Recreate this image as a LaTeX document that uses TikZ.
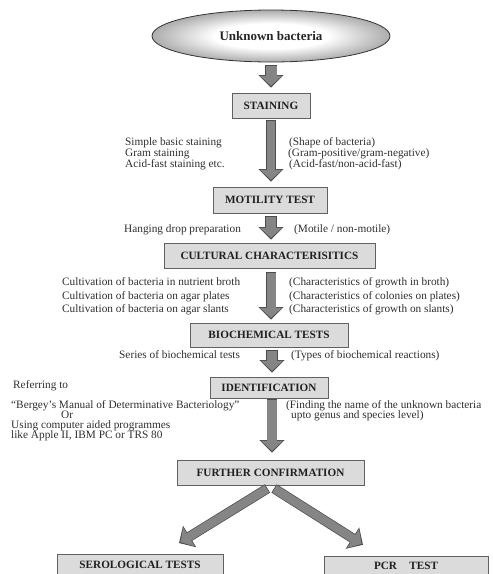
\documentclass[tikz,border=0pt]{standalone}
\usepackage{fontspec}
\setmainfont{Liberation Serif}
\usetikzlibrary{arrows.meta,shapes.geometric,calc}
\definecolor{arrowfill}{gray}{0.52}
\definecolor{arrowedge}{gray}{0.30}
\definecolor{boxfill}{gray}{0.86}
\definecolor{boxedge}{gray}{0.38}
\definecolor{txt}{gray}{0.18}
\pgfdeclareradialshading{ellshade}{\pgfpoint{0bp}{0bp}}{color(0bp)=(white); color(12bp)=(white); color(24bp)=(black!30); color(36bp)=(black!58); color(44bp)=(black!72); color(50bp)=(black!88)}
\newcommand{\barr}[5]{%
  \draw[draw=arrowedge, line width=#2pt, -{Triangle[width=24.5pt,length=12.5pt]}] #4 -- #5;
  \draw[draw=arrowfill, line width=#1pt, -{Triangle[width=21.5pt,length=10pt]}, shorten >=1.7pt, shorten <=0.7pt] #4 -- #5;}
\tikzset{
  stepbox/.style={draw=boxedge, line width=0.9pt, fill=boxfill, rectangle, inner sep=0pt,
    font=\fontsize{11.2}{13}\selectfont\bfseries, text=black!88},
  side/.style={anchor=base west, inner sep=0pt, text=txt, font=\fontsize{11.3}{13}\selectfont},
}
\begin{document}
\begin{tikzpicture}[x=1pt,y=-1pt]
\useasboundingbox (0,0) rectangle (493,574);
% main nodes
\node[ellipse, draw=black!80, line width=0.8pt, shading=ellshade, minimum width=238pt, minimum height=52pt, inner sep=0pt,
  font=\fontsize{13}{15}\selectfont\bfseries, text=black!85] (ell) at (271,36) {Unknown bacteria};
\node[stepbox, minimum width=78pt, minimum height=25pt] (stain) at (271,105.5) {STAINING};
\node[stepbox, minimum width=114pt, minimum height=26pt] (mot) at (270,200) {MOTILITY TEST};
\node[stepbox, minimum width=211pt, minimum height=25pt] (cult) at (269.5,255.5) {CULTURAL CHARACTERISITICS};
\node[stepbox, minimum width=158pt, minimum height=24pt] (bio) at (269,335) {BIOCHEMICAL TESTS};
\node[stepbox, minimum width=118pt, minimum height=21pt] (ident) at (269,387.5) {IDENTIFICATION};
\node[stepbox, minimum width=187pt, minimum height=25pt] (further) at (270.5,472.5) {FURTHER CONFIRMATION};
\node[stepbox, minimum width=166pt, minimum height=20pt] (sero) at (140,564.5) {SEROLOGICAL TESTS};
\node[stepbox, minimum width=164pt, minimum height=18.5pt] (pcr) at (406,565.5) {PCR\hspace{1.1em}TEST};
% side texts
\node[side] (s1) at (125,145) {Simple basic staining};
\node[side] (s2) at (125,156) {Gram staining};
\node[side] (s3) at (125,167) {Acid-fast staining etc.};
\node[side] (r1) at (289,145) {(Shape of bacteria)};
\node[side] (r2) at (288,156) {(Gram-positive/gram-negative)};
\node[side] (r3) at (289,167) {(Acid-fast/non-acid-fast)};
\node[side] (h1) at (124,232) {Hanging drop preparation};
\node[side] (h2) at (294,232) {(Motile / non-motile)};
\node[side] (c1) at (62,285.5) {Cultivation of bacteria in nutrient broth};
\node[side] (c2) at (62,299) {Cultivation of bacteria on agar plates};
\node[side] (c3) at (62,312.5) {Cultivation of bacteria on agar slants};
\node[side] (d1) at (289,285.5) {(Characteristics of growth in broth)};
\node[side] (d2) at (289,299) {(Characteristics of colonies on plates)};
\node[side] (d3) at (289,312.5) {(Characteristics of growth on slants)};
\node[side] (b1) at (119,358) {Series of biochemical tests};
\node[side] (b2) at (291,358) {(Types of biochemical reactions)};
\node[side] (i1) at (13,388) {Referring to};
\node[side] (i2) at (11,408) {“Bergey’s Manual of Determinative Bacteriology”};
\node[side] (i3) at (61,418) {Or};
\node[side] (i4) at (11,428) {Using computer aided programmes};
\node[side] (i5) at (11,438) {like Apple II, IBM PC or TRS 80};
\node[side] (f1) at (286,408) {(Finding the name of the unknown bacteria};
\node[side] (f2) at (291,418) {upto genus and species level)};
% block arrows
\barr{11}{12.4}{}{($(ell.south)+(0,3)$)}{($(ell.south |- stain.north)+(0,-5)$)}
\barr{8.5}{9.9}{}{($(stain.south)+(0,2)$)}{($(stain.south |- mot.north)+(0,-5)$)}
\barr{10}{11.4}{}{($(mot.south)+(1,3)$)}{($(mot.south |- cult.north)+(1,-3)$)}
\barr{9}{10.4}{}{($(cult.south)+(1.5,4)$)}{($(cult.south |- bio.north)+(1.5,-3)$)}
\barr{10}{11.4}{}{($(bio.south)+(3,3)$)}{($(bio.south |- ident.north)+(3,-4)$)}
\barr{9.5}{10.9}{}{($(ident.south)+(3,1)$)}{($(ident.south |- further.north)+(3,-7)$)}
\barr{8.5}{9.9}{}{($(further.south)+(-3,3)$)}{($(sero.north)+(39,-11)$)}
\barr{8.5}{9.9}{}{($(further.south)+(3.5,3)$)}{($(pcr.north)+(-43,-11)$)}
\end{tikzpicture}
\end{document}
